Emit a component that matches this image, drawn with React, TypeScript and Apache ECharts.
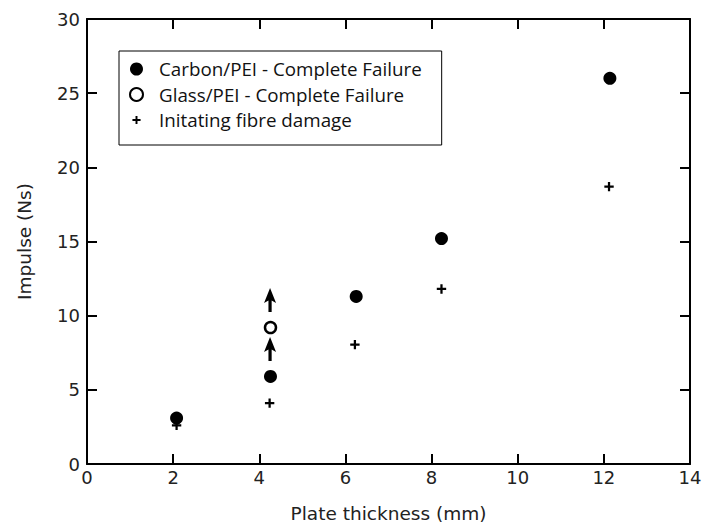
import React, { useEffect, useRef } from "react";
import * as echarts from "echarts";

// ---- data ----
const carbonX = [2.08, 4.26, 6.25, 8.23, 12.14];
const carbonY = [3.1, 5.9, 11.3, 15.2, 26.0];
const glassX = [4.26];
const glassY = [9.2];
const fibreX = [2.08, 4.24, 6.22, 8.23, 12.12];
const fibreY = [2.6, 4.1, 8.05, 11.8, 18.7];
const arrowX = [4.25, 4.25];
const arrowY = [11.05, 7.75];

const seriesNames = [
  "Carbon/PEI - Complete Failure",
  "Glass/PEI - Complete Failure",
  "Initating fibre damage",
];
const xTitle = "Plate thickness (mm)";
const yTitle = "Impulse (Ns)";

const zip = (xs: number[], ys: number[]) => xs.map((x, i) => [x, ys[i]]);

const PLUS =
  "path://M0,0 M16,16 M6.8,3 H9.2 V6.8 H13 V9.2 H9.2 V13 H6.8 V9.2 H3 V6.8 H6.8 Z";
const ARROW =
  "path://M6,0 L12,15 L7.6,12.5 L7.6,24 L4.4,24 L4.4,12.5 L0,15 Z";

const AXIS_FONT = "DejaVu Sans";

export default function App() {
  const ref = useRef<HTMLDivElement>(null);
  useEffect(() => {
    if (!ref.current) return;
    const chart = echarts.init(ref.current, undefined, { renderer: "svg" });
    const axisLine = { show: true, onZero: false, lineStyle: { color: "#000", width: 2 } };
    const tick = { show: true, inside: true, length: 10, lineStyle: { color: "#000", width: 2 } };
    chart.setOption({
      animation: false,
      backgroundColor: "#fff",
      grid: { left: 87, right: 15, top: 19, bottom: 60, containLabel: false },
      legend: {
        orient: "vertical",
        left: 119,
        top: 51,
        selectedMode: false,
        data: seriesNames,
        backgroundColor: "#fff",
        borderColor: "#000",
        borderWidth: 1,
        padding: [7, 20, 14, 10],
        itemGap: 3.5,
        itemWidth: 13,
        itemHeight: 14,
        textStyle: {
          fontFamily: "Open Sans",
          fontSize: 18.8,
          color: "#111",
          lineHeight: 22,
          padding: [0, 0, 0, 11],
        },
      },
      xAxis: [
        {
          type: "value",
          min: 0,
          max: 14,
          interval: 2,
          position: "bottom",
          axisLine,
          axisTick: tick,
          splitLine: { show: false },
          axisLabel: { fontFamily: AXIS_FONT, fontSize: 18, color: "#222", margin: 4 },
          name: xTitle,
          nameLocation: "middle",
          nameGap: 40,
          nameTextStyle: { fontFamily: AXIS_FONT, fontSize: 18.5, color: "#222" },
        },
        {
          type: "value",
          min: 0,
          max: 14,
          interval: 2,
          position: "top",
          axisLine,
          axisTick: tick,
          splitLine: { show: false },
          axisLabel: { show: false },
        },
      ],
      yAxis: [
        {
          type: "value",
          min: 0,
          max: 30,
          interval: 5,
          position: "left",
          axisLine,
          axisTick: tick,
          splitLine: { show: false },
          axisLabel: { fontFamily: AXIS_FONT, fontSize: 18, color: "#222", margin: 7 },
          name: yTitle,
          nameLocation: "middle",
          nameGap: 53,
          nameTextStyle: { fontFamily: AXIS_FONT, fontSize: 18.5, color: "#222" },
        },
        {
          type: "value",
          min: 0,
          max: 30,
          interval: 5,
          position: "right",
          axisLine,
          axisTick: tick,
          splitLine: { show: false },
          axisLabel: { show: false },
        },
      ],
      series: [
        {
          name: seriesNames[2],
          type: "scatter",
          data: zip(fibreX, fibreY),
          symbol: PLUS,
          symbolSize: 15,
          itemStyle: { color: "#000", opacity: 1 },
        },
        {
          name: seriesNames[0],
          type: "scatter",
          data: zip(carbonX, carbonY),
          symbol: "circle",
          symbolSize: 13,
          itemStyle: { color: "#000", opacity: 1 },
        },
        {
          name: seriesNames[1],
          type: "scatter",
          data: zip(glassX, glassY),
          symbol: "circle",
          symbolSize: 11,
          itemStyle: { color: "#fff", borderColor: "#000", borderWidth: 2.5, opacity: 1 },
        },
        {
          name: "arrows",
          type: "scatter",
          data: zip(arrowX, arrowY),
          symbol: ARROW,
          symbolSize: [12, 24],
          itemStyle: { color: "#000", opacity: 1 },
        },
      ],
    });
    return () => chart.dispose();
  }, []);
  return (
    <div
      ref={ref}
      style={{ position: "fixed", left: 0, top: 0, width: 705, height: 528, background: "#fff" }}
    />
  );
}
